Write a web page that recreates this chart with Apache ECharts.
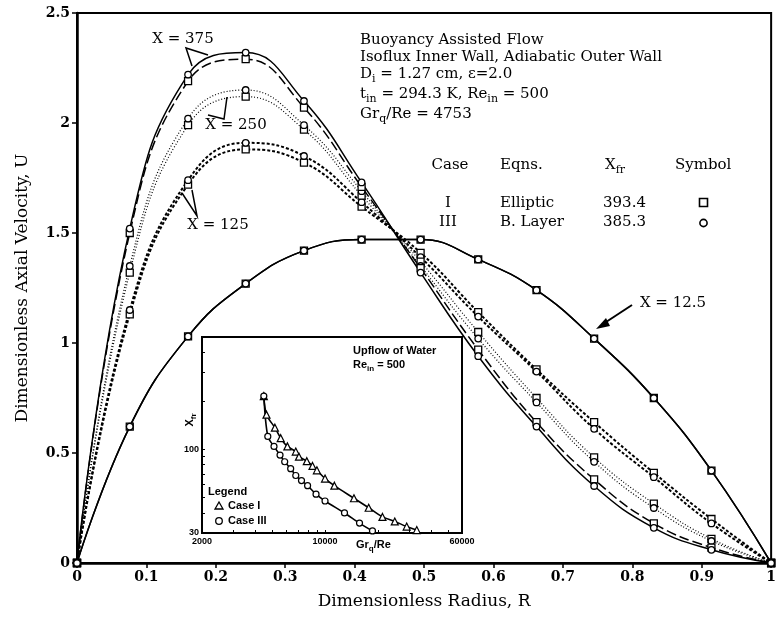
<!DOCTYPE html>
<html>
<head>
<meta charset="utf-8">
<script src="https://cdn.jsdelivr.net/npm/echarts@6/dist/echarts.min.js"></script>
<style>
  html, body { margin: 0; padding: 0; background: #fff; }
  #chart { width: 779px; height: 617px; }
</style>
</head>
<body>
<div id="chart"></div>
<script>
// Radial stations of the computed velocity profiles
const radius = [0, 0.076, 0.16, 0.243, 0.327, 0.41, 0.495, 0.578, 0.662, 0.745, 0.831, 0.914, 1.0];

// Dimensionless axial velocity U at each station
// Case I = elliptic equations (squares), Case III = boundary-layer equations (circles)
const u12_5_caseI   = [0, 0.62, 1.03, 1.27, 1.42, 1.47, 1.47, 1.38, 1.24, 1.02, 0.75, 0.42, 0];
const u12_5_caseIII = [0, 0.62, 1.03, 1.27, 1.42, 1.47, 1.47, 1.38, 1.24, 1.02, 0.75, 0.42, 0];
const u125_caseI    = [0, 1.13, 1.72, 1.88, 1.82, 1.62, 1.41, 1.14, 0.88, 0.64, 0.41, 0.20, 0];
const u125_caseIII  = [0, 1.15, 1.74, 1.91, 1.85, 1.64, 1.39, 1.12, 0.87, 0.61, 0.39, 0.18, 0];
const u250_caseI    = [0, 1.32, 1.99, 2.12, 1.97, 1.67, 1.37, 1.05, 0.75, 0.48, 0.27, 0.11, 0];
const u250_caseIII  = [0, 1.35, 2.02, 2.15, 1.99, 1.69, 1.35, 1.02, 0.73, 0.46, 0.25, 0.10, 0];
const u375_caseI    = [0, 1.50, 2.19, 2.29, 2.07, 1.71, 1.34, 0.97, 0.64, 0.38, 0.18, 0.07, 0];
const u375_caseIII  = [0, 1.52, 2.22, 2.32, 2.10, 1.73, 1.32, 0.94, 0.62, 0.35, 0.16, 0.06, 0];

// Inset: fully developed length X_fr versus Gr_q/Re
const insetGrCaseI  = [4490, 4650, 5190, 5600, 6110, 6820, 7110, 7880, 8490, 8990, 10000, 11300, 14600, 17700, 21200, 24900, 29100, 33200];
const insetXfrCaseI = [214, 164, 136, 117, 104, 96.5, 89.7, 84.1, 78.6, 73.8, 65.5, 59.2, 49.4, 43.1, 37.8, 35.4, 32.9, 31.3];
const insetGrCaseIII  = [4490, 4730, 5130, 5550, 5900, 6380, 6820, 7350, 7960, 8890, 10000, 12900, 15700, 18600];
const insetXfrCaseIII = [214, 120, 104, 91.8, 83.4, 75.5, 68.5, 63.7, 59.2, 52.4, 47.5, 40.0, 34.6, 30.9];

// Tick labels of the inset's logarithmic axes
const insetXTickLabels = [2000, 10000, 60000];
const insetYTickLabels = [30, 100];
const insetXTicks = [2000, 3000, 4000, 5000, 6000, 7000, 8000, 9000, 10000, 20000, 30000, 40000, 50000, 60000];
const insetYTicks = [30, 40, 50, 60, 70, 80, 90, 100, 200, 300, 400, 500];

const SERIF = "'DejaVu Serif', 'Liberation Serif', serif";
const SANS = "'Liberation Sans', Arial, sans-serif";

function pairs(xs, ys) { return xs.map((x, i) => [x, ys[i]]); }

function profile(name, values, symbol, line) {
  return {
    name: name,
    type: 'line',
    xAxisIndex: 0, yAxisIndex: 0,
    data: pairs(radius, values),
    smooth: 0.45,
    symbol: symbol,
    symbolSize: symbol === 'rect' ? 7 : 6.5,
    itemStyle: { color: '#fff', borderColor: '#000', borderWidth: 1.3 },
    lineStyle: Object.assign({ color: '#000' }, line),
    emphasis: { disabled: true },
    animation: false
  };
}

function insetSeries(name, xs, ys, symbol) {
  return {
    name: name,
    type: 'line',
    xAxisIndex: 1, yAxisIndex: 1,
    data: pairs(xs, ys),
    smooth: 0.3,
    symbol: symbol,
    symbolSize: symbol === 'triangle' ? 7 : 6,
    itemStyle: { color: '#fff', borderColor: '#000', borderWidth: 1.2 },
    lineStyle: { color: '#000', width: 1.6 },
    emphasis: { disabled: true },
    animation: false
  };
}

const subStyle = { fontSize: 11, lineHeight: 10, verticalAlign: 'bottom', fontFamily: SERIF, fill: '#000' };

function label(text, x, y, opts) {
  return {
    type: 'text',
    z: 50,
    style: Object.assign({
      text: text, x: x, y: y,
      fontFamily: SERIF, fontSize: 15, fill: '#000',
      verticalAlign: 'middle', align: 'left',
      lineHeight: 22,
      rich: { s: subStyle, n: { fontSize: 15, lineHeight: 22, fontFamily: SERIF } }
    }, opts || {})
  };
}

function pointer(points) {
  return { type: 'polyline', z: 50, shape: { points: points }, style: { stroke: '#000', lineWidth: 1.5, fill: null } };
}

const insetRich = {
  s: { fontSize: 8, lineHeight: 8, verticalAlign: 'bottom', fontFamily: SANS, fontWeight: 'bold', fill: '#000' },
  n: { fontSize: 11, lineHeight: 16, fontFamily: SANS, fontWeight: 'bold' }
};
function insetText(text, x, y, opts) {
  return {
    type: 'text', z: 50,
    style: Object.assign({
      text: text, x: x, y: y, fontFamily: SANS, fontWeight: 'bold', fontSize: 11, fill: '#000',
      verticalAlign: 'middle', align: 'left', lineHeight: 16, rich: insetRich
    }, opts || {})
  };
}

const plain = v => String(v);

const chart = echarts.init(document.getElementById('chart'), null, { renderer: 'canvas' });

chart.setOption({
  backgroundColor: '#fff',
  animation: false,
  grid: [
    { left: 77, right: 3, top: 13, bottom: 54, show: true, borderColor: '#000', borderWidth: 2, containLabel: false },
    { left: 202, top: 337, width: 260, height: 196, show: true, backgroundColor: '#fff', borderColor: '#000', borderWidth: 2, containLabel: false }
  ],
  xAxis: [
    {
      gridIndex: 0, type: 'value', min: 0, max: 1, interval: 0.1,
      name: 'Dimensionless Radius, R', nameLocation: 'middle', nameGap: 30,
      nameTextStyle: { fontFamily: SERIF, fontSize: 17, color: '#000' },
      axisLine: { lineStyle: { color: '#000', width: 2.5 } },
      axisTick: { show: true, length: 5, lineStyle: { color: '#000', width: 1.5 } },
      axisLabel: { fontFamily: SERIF, fontSize: 14, fontWeight: 'bold', color: '#000', margin: 7 },
      splitLine: { show: false }
    },
    {
      gridIndex: 1, type: 'log', logBase: 10, min: 2000, max: 60000,
      axisLine: { lineStyle: { color: '#000', width: 2 } },
      axisTick: { inside: true, length: 3, customValues: insetXTicks, lineStyle: { color: '#000', width: 1 } },
      axisLabel: { customValues: insetXTickLabels, formatter: plain, fontFamily: SANS, fontSize: 9, fontWeight: 'bold', color: '#000', margin: 4 },
      splitLine: { show: false }
    }
  ],
  yAxis: [
    {
      gridIndex: 0, type: 'value', min: 0, max: 2.5, interval: 0.5,
      name: 'Dimensionless Axial Velocity, U', nameLocation: 'middle', nameGap: 46, nameRotate: 90,
      nameTextStyle: { fontFamily: SERIF, fontSize: 17, color: '#000' },
      axisLine: { lineStyle: { color: '#000', width: 2.5 } },
      axisTick: { show: true, length: 5, lineStyle: { color: '#000', width: 1.5 } },
      axisLabel: { fontFamily: SERIF, fontSize: 14, fontWeight: 'bold', color: '#000', margin: 7 },
      splitLine: { show: false }
    },
    {
      gridIndex: 1, type: 'log', logBase: 10, min: 30, max: 500,
      axisLine: { lineStyle: { color: '#000', width: 2 } },
      axisTick: { inside: true, length: 3, customValues: insetYTicks, lineStyle: { color: '#000', width: 1 } },
      axisLabel: { customValues: insetYTickLabels, formatter: plain, fontFamily: SANS, fontSize: 9, fontWeight: 'bold', color: '#000', margin: 3 },
      splitLine: { show: false }
    }
  ],
  series: [
    profile('X=12.5 I', u12_5_caseI, 'rect', { width: 1.5, type: 'solid' }),
    profile('X=12.5 III', u12_5_caseIII, 'circle', { width: 1.5, type: 'solid' }),
    profile('X=125 I', u125_caseI, 'rect', { width: 2, type: [3, 2] }),
    profile('X=125 III', u125_caseIII, 'circle', { width: 2, type: [3, 2] }),
    profile('X=250 I', u250_caseI, 'rect', { width: 1.2, type: [1, 2] }),
    profile('X=250 III', u250_caseIII, 'circle', { width: 1.2, type: [1, 2] }),
    profile('X=375 I', u375_caseI, 'rect', { width: 1.5, type: [10, 4] }),
    profile('X=375 III', u375_caseIII, 'circle', { width: 1.5, type: 'solid' }),
    insetSeries('Case I', insetGrCaseI, insetXfrCaseI, 'triangle'),
    insetSeries('Case III', insetGrCaseIII, insetXfrCaseIII, 'circle')
  ],
  graphic: [
    // flow description
    label('Buoyancy Assisted Flow', 360, 40),
    label('Isoflux Inner Wall, Adiabatic Outer Wall', 360, 57),
    label('{n|D}{s|i}{n| = 1.27 cm, ε=2.0}', 360, 74),
    label('{n|t}{s|in}{n| = 294.3 K, Re}{s|in}{n| = 500}', 360, 94),
    label('{n|Gr}{s|q}{n|/Re = 4753}', 360, 114),
    // case table
    label('Case', 450, 165, { align: 'center' }),
    label('Eqns.', 500, 165),
    label('{n|X}{s|fr}', 605, 165),
    label('Symbol', 675, 165),
    label('I', 448, 203, { align: 'center' }),
    label('III', 448, 222, { align: 'center' }),
    label('Elliptic', 500, 203),
    label('B. Layer', 500, 222),
    label('393.4', 603, 203),
    label('385.3', 603, 222),
    { type: 'rect', z: 50, shape: { x: 699.5, y: 198.5, width: 8, height: 8 }, style: { stroke: '#000', lineWidth: 1.6, fill: '#fff' } },
    { type: 'circle', z: 50, shape: { cx: 703.5, cy: 223, r: 3.6 }, style: { stroke: '#000', lineWidth: 1.6, fill: '#fff' } },
    // profile annotations
    label('X = 375', 183, 39, { align: 'center' }),
    pointer([[192, 66], [186, 48], [208, 55]]),
    label('X = 250', 236, 125, { align: 'center' }),
    pointer([[208, 115], [224, 119], [227, 97]]),
    label('X = 125', 218, 225, { align: 'center' }),
    pointer([[182, 193], [197, 216], [192, 190]]),
    label('X = 12.5', 673, 303, { align: 'center' }),
    { type: 'line', z: 50, shape: { x1: 632, y1: 305, x2: 603, y2: 324 }, style: { stroke: '#000', lineWidth: 2 } },
    { type: 'polygon', z: 50, shape: { points: [[596, 329], [606, 318], [610, 326]] }, style: { fill: '#000' } },
    // inset annotations
    insetText('Upflow of Water', 353, 351),
    insetText('{n|Re}{s|in}{n| = 500}', 353, 365),
    insetText('Legend', 208, 492),
    { type: 'polygon', z: 50, shape: { points: [[215, 509], [223, 509], [219, 502]] }, style: { stroke: '#000', lineWidth: 1.3, fill: '#fff' } },
    insetText('Case I', 228, 506),
    { type: 'circle', z: 50, shape: { cx: 219, cy: 521, r: 3.3 }, style: { stroke: '#000', lineWidth: 1.3, fill: '#fff' } },
    insetText('Case III', 228, 521),
    insetText('{n|Gr}{s|q}{n|/Re}', 356, 545),
    { type: 'text', z: 50, x: 190, y: 420, rotation: Math.PI / 2,
      style: { text: '{n|X}{s|fr}', x: 0, y: 0, fontFamily: SANS, fontWeight: 'bold', fontSize: 11, fill: '#000',
               verticalAlign: 'middle', align: 'center', lineHeight: 16, rich: insetRich } }
  ]
});
</script>
</body>
</html>
